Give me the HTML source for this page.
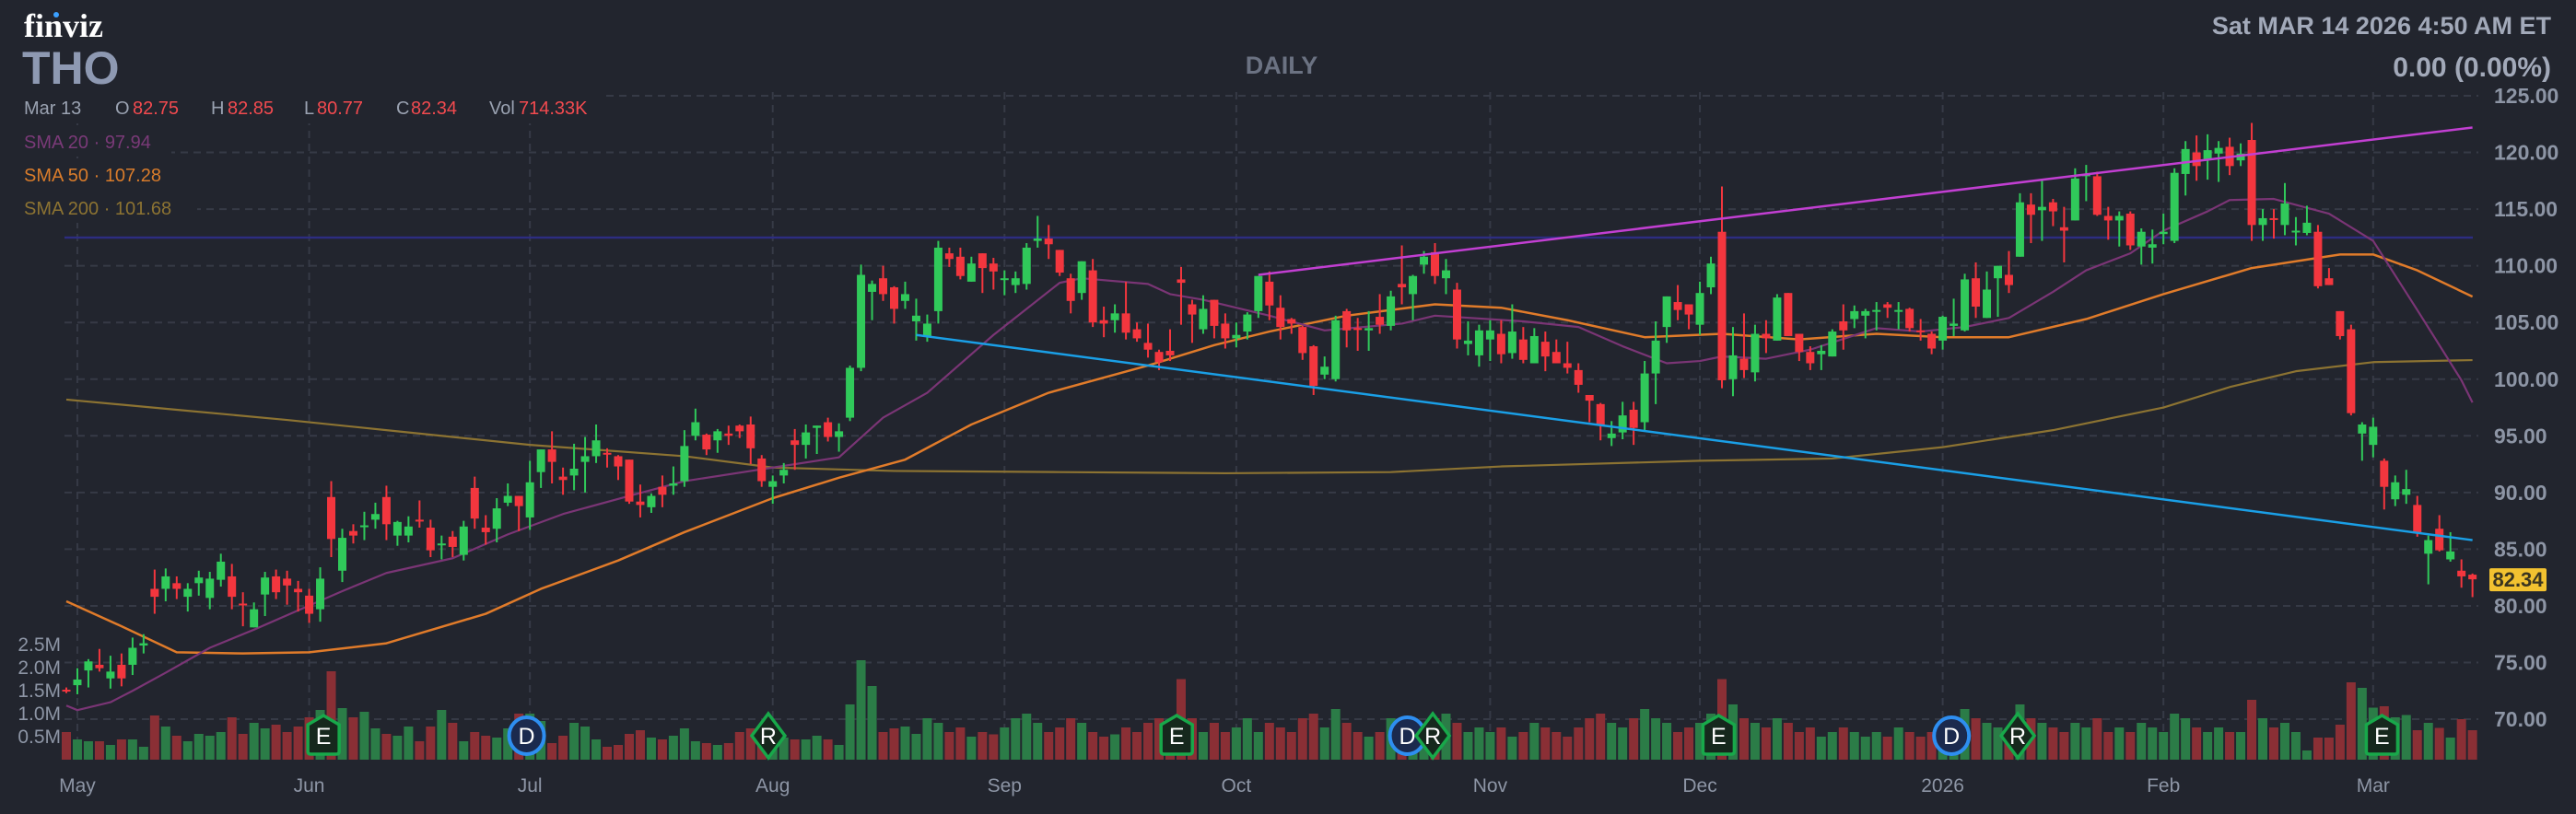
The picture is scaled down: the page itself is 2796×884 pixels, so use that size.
<!DOCTYPE html>
<html><head><meta charset="utf-8">
<style>
html,body{margin:0;padding:0;background:#22252e;}
#wrap{position:relative;width:2796px;height:884px;overflow:hidden;background:#22252e;font-family:"Liberation Sans",sans-serif;}
svg text{font-family:"Liberation Sans",sans-serif;}
</style></head>
<body>
<div id="wrap">
<svg id="chart" width="2796" height="884" xmlns="http://www.w3.org/2000/svg">
  <g id="grid"></g>
  <g id="vol"></g>
  <line x1="70" x2="2684" y1="258" y2="258" stroke="#2d2d80" stroke-width="2.5"/>
  <g id="smas"></g>
  <g id="candles"></g>
  <g id="trend"></g>
  <g id="badges"></g>
  <g id="axes"></g>

  <rect x="14" y="98" width="640" height="36" fill="#22252e"/>
  <rect x="14" y="136" width="172" height="34" fill="#22252e"/>
  <rect x="14" y="172" width="190" height="34" fill="#22252e"/>
  <rect x="14" y="208" width="200" height="34" fill="#22252e"/>
  <text x="26" y="40" font-family="Liberation Serif" font-weight="bold" font-size="36" fill="#ffffff" style="font-family:'Liberation Serif',serif">finviz</text>
  <circle cx="61" cy="16" r="3" fill="#3ba0ff"/>
  <text x="24" y="91" font-weight="bold" font-size="50" fill="#8e99b2">THO</text>
  <text x="1391" y="80" text-anchor="middle" font-weight="bold" font-size="27" fill="#6b7282">DAILY</text>
  <text x="2769" y="37" text-anchor="end" font-weight="bold" font-size="27" fill="#a2a9b9">Sat MAR 14 2026 4:50 AM ET</text>
  <text x="2769" y="83" text-anchor="end" font-weight="bold" font-size="30" fill="#a2a9b9">0.00 (0.00%)</text>

  <g font-size="20">
    <text x="26" y="124" fill="#9aa2b1">Mar 13</text>
    <text x="125" y="124" fill="#9aa2b1">O</text>
    <text x="144" y="124" fill="#f24a4f">82.75</text>
    <text x="229" y="124" fill="#9aa2b1">H</text>
    <text x="247" y="124" fill="#f24a4f">82.85</text>
    <text x="330" y="124" fill="#9aa2b1">L</text>
    <text x="344" y="124" fill="#f24a4f">80.77</text>
    <text x="430" y="124" fill="#9aa2b1">C</text>
    <text x="446" y="124" fill="#f24a4f">82.34</text>
    <text x="531" y="124" fill="#9aa2b1">Vol</text>
    <text x="563" y="124" fill="#f24a4f">714.33K</text>
  </g>
  <text x="26" y="161" font-size="20" fill="#7a3a78">SMA 20 · 97.94</text>
  <text x="26" y="197" font-size="20" fill="#d97c2b">SMA 50 · 107.28</text>
  <text x="26" y="233" font-size="20" fill="#8c7332">SMA 200 · 101.68</text>
</svg>
</div>
<script>
// ---- data ----
const candles = [
[72.6,72.8,72.3,72.5],[73,74.5,72.2,73.5],[74.3,75.3,72.8,75.1],[74.8,76.2,74.2,74.5],[73.6,75.6,72.7,74.2],
[74.8,75.8,72.9,73.6],[74.8,77.2,73.9,76.3],[76.5,77.5,75.8,76.7],[81.5,83.2,79.3,80.8],[81.5,83.3,80.4,82.6],
[82,82.6,80.6,81.5],[80.8,82,79.5,81.5],[82,83.1,80.9,82.5],[80.7,83,79.7,82.4],[82.3,84.6,81.7,83.9],
[82.6,83.7,79.7,80.8],[80.2,81.2,78.2,80.1],[78.1,80.3,78.1,79.7],[81,83,79.1,82.5],[82.6,83.2,80.6,81.2],
[82.4,83.1,80.1,81.8],[81.5,82.2,79.5,81.2],[80.9,81.5,78.5,79.3],[79.7,83.4,78.6,82.4],[89.6,91,84.3,85.9],
[83.1,86.8,82.1,86],[86.6,87.2,85.5,86.2],[87,88.3,85.8,87.1],[87.6,89.1,86.8,88.1],[89.6,90.6,85.8,87.2],
[86.2,87.5,85.3,87.4],[86.2,87.9,85.6,87],[87.6,89.3,86.9,87.5],[86.9,87.6,84.3,84.9],[85.4,86.2,84.1,85.5],
[86.1,86.6,84.3,85.2],[84.5,87.5,84,87],[90.4,91.4,86.8,87.7],[86.9,88,85.4,86.5],[86.8,89.5,85.6,88.6],
[89.1,90.8,88.8,89.7],[89.7,89.7,86.6,88.8],[87.8,92.8,86.7,90.9],[91.8,93.8,90.4,93.8],[93.8,95.4,90.8,92.7],
[91.4,92.2,89.8,91.1],[91.5,94.3,90.2,92.1],[92.7,94.9,90,93.2],[93.2,96,92.6,94.6],[93.5,93.9,92.2,93.4],
[93.2,93.3,91.1,92.3],[92.9,92.9,89,89.2],[89.2,90.7,87.8,88.9],[88.7,89.9,88.2,89.7],[90.5,91.5,88.7,89.8],
[90.6,92.3,89.8,90.8],[91,95.5,90.5,94.1],[95,97.4,94.6,96.2],[95.1,95.2,93.3,93.8],[94.6,95.6,93.5,95.4],
[95.2,95.9,94.2,95],[95.9,96,94.8,95.4],[96,96.7,92.5,93.9],[93,93.3,90.5,91],[90.5,91.5,89,91],
[91.5,92.6,90.8,92],[94.6,95.6,92,94.2],[94.2,96,93,95.3],[95.7,95.9,93.4,95.9],[96.2,96.6,94.5,94.9],
[94.9,96.1,93.6,95.4],[96.6,101.2,96.3,101],[101,110.1,100.7,109.2],[107.7,108.7,105.2,108.4],[108.9,110,106.9,107.5],
[108.1,108.2,104.9,106.2],[106.9,108.6,106.2,107.5],[105.1,107.1,103.4,105.6],[103.8,105.7,103.3,104.9],[106,112.2,104.9,111.6],
[111.1,111.6,109.9,110.6],[110.8,111.6,108.8,109.1],[108.6,110.8,108.6,110.2],[111.1,111.1,107.6,109.8],[110.2,110.7,107.9,109.5],
[108.9,109.6,107.4,108.9],[108.3,109.5,107.6,108.9],[108.4,112,107.9,111.6],[112.2,114.4,111.6,112.4],[112.4,113.6,110.6,111.9],
[111.4,111.4,109.1,109.4],[108.9,109.3,105.8,106.9],[107.6,110.4,107,110.4],[109.6,110.6,104.6,105],[105.2,106.4,103.7,104.9],
[105.2,106.6,104.1,105.8],[105.8,108.6,103.5,104.1],[104.4,105,103.3,103.6],[103.2,104.9,101.9,102.6],[102.4,102.6,100.8,101.5],
[102.5,104.4,101.6,102.1],[108.8,109.9,104.8,108.5],[106.6,107,103.2,105.7],[104.4,107.4,104,106.2],[107,107,103.6,104.7],
[104.9,105.8,102.7,103.6],[103.6,105,102.8,103.9],[104.2,105.9,103.5,105.7],[106,109.1,105.4,109.1],[108.6,109.5,105.2,106.5],
[106.3,107.4,103.5,104.6],[105.3,105.4,104,104.9],[104.6,104.7,101.7,102.3],[102.9,103,98.6,99.4],[100.4,102,100,101.1],
[100,105.6,99.8,105.2],[106,106.2,102.8,104.3],[104.5,105.4,102.5,104.4],[104.3,106,102.5,104.5],[105.5,107.5,104,104.8],
[104.7,107.8,104.3,107.3],[108.4,111.8,106.6,108.1],[107.5,109.2,105.2,109.1],[110.1,111.3,109.3,110.8],[111.2,112,108.4,109.1],
[108.9,110.6,107.5,109.6],[107.9,108.5,102.7,103.5],[103.1,105.1,102.1,103.4],[102.1,104.8,101.1,104.3],[103.5,105.2,101.6,104.3],
[104,105.2,101.4,102.2],[102.3,106.6,101.8,104.2],[103.5,104.6,101.4,101.7],[101.4,104.5,101.4,103.8],[103.3,104.2,100.7,102],
[102.4,103.5,101.4,101.4],[101.4,103.3,100.5,101],[100.8,101.4,98.8,99.5],[98.6,98.6,96.2,98.1],[97.8,97.9,94.6,95.9],
[94.8,96.3,94.1,95.2],[95.3,98,94.7,96.8],[97.3,98,94.2,95.7],[96.2,101.6,95.4,100.5],[100.5,105.1,97.8,103.4],
[104.6,107.3,103.2,107.3],[106.8,108.3,105.2,106.1],[106.6,106.6,104.4,105.7],[104.8,108.6,103.9,107.6],[108.1,110.8,107.5,110.2],
[113,117,99.2,99.9],[100,104.6,98.5,102.1],[101.8,105.8,100.1,100.8],[100.6,104.8,99.8,104],[104,105.2,102.3,103.6],
[103.4,107.5,103.4,107.2],[107.6,107.6,103.8,103.8],[104,104,101.6,102.4],[102.4,102.9,100.8,101.4],[102.2,103,100.8,102.5],
[102,104.4,102,104.2],[105.1,106.6,102.6,104.3],[105.3,106.5,104.5,106],[105.6,106.2,103.6,106],[106,106.8,104.3,106.1],
[106.6,106.8,105.4,106.3],[106,106.8,104.4,106.1],[106.2,106.3,104.2,104.5],[104.3,105.3,103.4,104.2],[104,104.2,102.2,102.7],
[103.4,105.6,102.6,105.5],[104.7,107.1,103.8,104.9],[104.3,109.3,104.2,108.8],[108.9,110.3,105.4,106.4],[105.4,109.5,105.4,107.9],
[108.9,110,105.5,110],[109.2,111.3,107.6,108.3],[110.8,116.4,110.8,115.6],[115.4,116.4,112,114.5],[114.9,117.5,112.2,115.2],
[115.6,115.9,113.5,114.8],[113.4,115.2,110.3,113.1],[114,118.6,114,117.7],[117.9,118.9,115.7,118.1],[117.9,118.3,114.4,114.5],
[114.4,115.2,112.3,114],[114,114.8,111.7,114.4],[114.6,114.8,111.4,111.8],[111.7,113.3,110.1,113],[111.6,113.2,110.2,111.9],
[112.8,114.6,111.9,113],[112.2,118.6,112,118.2],[118.1,121,116.2,120.3],[120,121.5,117.5,118.8],[119.4,121.6,117.6,120.2],
[119.9,121,117.4,120.4],[120.5,121.3,118,118.8],[119.3,120.8,118.8,119.9],[121.1,122.6,112.2,113.6],[113.6,115,112.2,114.2],
[114.2,115,112.4,114.1],[113.6,117.3,112.7,115.5],[113,114.3,111.8,113.1],[112.9,115.3,112.7,113.8],[113,113.6,108,108.2],
[108.9,109.8,108.3,108.3],[106,106,103.5,103.8],[104.4,104.8,96.8,97],[95.2,96.2,92.8,96],[94.2,96.6,93.1,95.8],
[92.8,93,88.5,90.5],[89.4,91.5,88.8,90.9],[89.8,92,89,90.3],[88.9,89.7,86.1,86.4],[84.6,86.2,81.9,85.8],
[86.8,88,84.8,84.9],[84.1,86.5,83.9,84.8],[83.1,84.1,81.6,82.6],[82.75,82.85,80.77,82.34]
];
const volumes = [
0.6,0.44,0.4,0.4,0.32,0.44,0.44,0.28,0.96,0.72,0.52,0.4,0.56,0.52,0.6,0.92,0.56,0.8,0.68,0.76,
0.6,0.72,0.92,1.08,1.92,1.12,0.92,1.04,0.68,0.56,0.52,0.72,0.4,0.72,1.08,0.8,0.4,0.6,0.52,0.48,
0.68,1.0,1.0,0.84,0.36,0.52,0.8,0.72,0.44,0.28,0.32,0.56,0.64,0.48,0.44,0.52,0.68,0.4,0.36,0.32,
0.36,0.6,0.68,0.5,0.68,0.48,0.44,0.44,0.52,0.44,0.32,1.2,2.16,1.6,0.6,0.68,0.72,0.56,0.9,0.8,
0.6,0.7,0.5,0.6,0.55,0.7,0.9,1.0,0.8,0.6,0.7,0.9,0.8,0.6,0.5,0.55,0.7,0.6,0.8,0.9,
0.7,1.75,0.9,0.6,0.8,0.6,0.7,0.9,0.6,0.8,0.7,0.6,0.9,1.0,0.7,1.1,0.8,0.6,0.5,0.6,
0.9,0.8,0.6,0.7,0.9,1.0,0.8,0.6,0.7,0.6,0.7,0.5,0.6,0.8,0.7,0.6,0.5,0.7,0.9,1.0,
0.8,0.7,0.9,1.1,0.9,0.8,0.6,0.7,0.8,1.0,1.75,1.2,0.9,0.8,0.7,0.9,0.8,0.6,0.7,0.5,
0.6,0.7,0.6,0.5,0.6,0.5,0.7,0.6,0.5,0.6,0.7,0.9,1.1,0.9,0.8,0.7,0.6,1.2,0.9,0.8,
0.7,0.6,0.8,0.7,0.9,0.6,0.7,0.6,0.8,0.7,0.6,1.0,0.9,0.7,0.6,0.7,0.6,0.6,1.3,0.9,
0.7,0.8,0.6,0.2,0.48,0.48,0.76,1.68,1.56,1.13,1.16,0.92,0.97,0.64,0.8,0.69,0.48,0.88,0.64
];
const sma20Idx = [0,1,4,6,9,13,17,21,25,29,35,40,45,51,56,70,74,78,84,90,92,98,100,103,109,114,121,124,132,137,141,145,148,150,154,158,164,168,172,176,180,183,187,190,194,196,200,205,209,213,217,218];
const sma20Val = [71.2,70.8,71.5,72.5,74.1,76.3,77.9,79.6,81.3,82.9,84.2,86.3,88.1,89.7,91,93.1,96.6,98.8,103.9,108.5,108.9,108.4,107.5,107,105.6,104.3,104.9,105.6,105.1,104.6,102.9,101.4,101.6,102,101.8,102.6,104.5,104.2,104.6,105.4,107.7,109.6,111.1,113.1,114.8,115.8,115.9,114.6,112.2,106.1,99.9,97.94];
const sma50Idx = [0,5,10,16,22,29,38,43,50,56,64,70,76,82,89,98,104,109,116,124,130,136,143,150,157,164,170,176,183,190,198,206,209,213,218];
const sma50Val = [80.4,78.2,75.9,75.8,75.9,76.7,79.3,81.5,84,86.5,89.5,91.3,92.9,96,98.8,101.2,103,104.2,105.6,106.6,106.3,105.2,103.7,104,103.5,104,103.7,103.7,105.3,107.5,109.8,111,111,109.6,107.28];
const sma200Idx = [0,10,20,30,42,56,64,75,90,105,120,130,148,160,170,180,190,196,202,209,218];
const sma200Val = [98.2,97.3,96.4,95.4,94.2,93.2,92.2,91.9,91.8,91.7,91.8,92.3,92.8,93.0,94.0,95.5,97.5,99.3,100.7,101.5,101.68];
const trendUpper = [[108,109.2],[218,122.2]];
const trendLower = [[77,103.9],[218,85.8]];
const monthLabels = ["May","Jun","Jul","Aug","Sep","Oct","Nov","Dec","2026","Feb","Mar"];
const monthIdx = [1,22,42,64,85,106,129,148,170,190,209];
const priceTicks = [125,120,115,110,105,100,95,90,85,80,75,70];
const volTicks = [2.5,2.0,1.5,1.0,0.5];
const volTickLabels = ["2.5M","2.0M","1.5M","1.0M","0.5M"];
const eventTypes = ["E","D","R","E","D","R","E","D","R","E"];
const eventIdx = [23.3,41.7,63.6,100.6,121.5,123.8,149.7,170.8,176.8,209.8];
const lastPrice = 82.34;

// ---- scales ----
const X = i => 72 + i*11.98;
const Y = p => 104 + (125-p)*12.31;
const V = v => 825 - v*50;
const NS = "http://www.w3.org/2000/svg";
function mk(tag, attrs, parent){const e=document.createElementNS(NS,tag);for(const k in attrs)e.setAttribute(k,attrs[k]);parent.appendChild(e);return e;}
const G = id => document.getElementById(id);

// grid
const grid = G('grid');
priceTicks.forEach(p=>{
  const l = mk('line',{x1:70,x2:2690,y1:Y(p),y2:Y(p),stroke:'#363a46','stroke-width':2,'stroke-dasharray':'8 6'},grid);
  
  
});
monthIdx.forEach(i=>{
  const l = mk('line',{x1:X(i),x2:X(i),y1:100,y2:828,stroke:'#363a46','stroke-width':2,'stroke-dasharray':'8 6'},grid);
  
  
});

// volume
const vol = G('vol');
volumes.forEach((v,i)=>{
  const c = candles[i]; const up = c[3]>=c[0];
  const r = mk('rect',{x:X(i)-5,y:V(v),width:10,height:825-V(v),fill:up?'#2b7c47':'#8a2f35'},vol);
  
  
});

// SMAs
function poly(idx,val,color,w,name){
  const pts = idx.map((i,k)=>X(i)+','+Y(val[k])).join(' ');
  const p = mk('polyline',{points:pts,fill:'none',stroke:color,'stroke-width':w,'stroke-linejoin':'round'},G('smas'));
  
  
}
poly(sma200Idx,sma200Val,'#8c7332',2.2,'sma200-line');
poly(sma50Idx,sma50Val,'#e07b2a',2.5,'sma50-line');
poly(sma20Idx,sma20Val,'#7a3575',2.2,'sma20-line');

// candles
const cg = G('candles');
candles.forEach((c,i)=>{
  const [o,h,l,cl] = c; const up = cl>=o; const col = up?'#30c95a':'#f3363e';
  const x = X(i);
  const w = mk('line',{x1:x,x2:x,y1:Y(h),y2:Y(l),stroke:col,'stroke-width':2},cg);
  
  
  const top = Y(Math.max(o,cl)), bot = Y(Math.min(o,cl));
  const b = mk('rect',{x:x-4.5,y:top,width:9,height:Math.max(2,bot-top),fill:col},cg);
  
  
});

// trendlines
const tg = G('trend');
const t1 = mk('line',{x1:X(trendUpper[0][0]),y1:Y(trendUpper[0][1]),x2:X(trendUpper[1][0]),y2:Y(trendUpper[1][1]),stroke:'#c23fd2','stroke-width':2.5},tg);


const t2 = mk('line',{x1:X(trendLower[0][0]),y1:Y(trendLower[0][1]),x2:X(trendLower[1][0]),y2:Y(trendLower[1][1]),stroke:'#1a9fe6','stroke-width':2.5},tg);



// badges
const bg = G('badges');
eventTypes.forEach((t,k)=>{
  const x = X(eventIdx[k]), y = 799;
  const g = mk('g',{},bg);
  
  
  if(t==='E'){
    mk('path',{d:`M${x-17} ${y-12} L${x} ${y-22} L${x+17} ${y-12} L${x+17} ${y+17} Q${x+17} ${y+20} ${x+14} ${y+20} L${x-14} ${y+20} Q${x-17} ${y+20} ${x-17} ${y+17} Z`,fill:'#16281d',stroke:'#18a84a','stroke-width':3.5},g);
  } else if(t==='D'){
    mk('ellipse',{cx:x,cy:y,rx:19,ry:20,fill:'#1b2a4e',stroke:'#2e8ef0','stroke-width':4},g);
  } else {
    mk('path',{d:`M${x} ${y-24} L${x+18} ${y} L${x} ${y+24} L${x-18} ${y} Z`,fill:'#16281d',stroke:'#18a84a','stroke-width':3.5},g);
  }
  const tx = mk('text',{x:x,y:y+9,'text-anchor':'middle','font-size':25,fill:'#ffffff'},g);
  tx.textContent = t;
});

// axes
const ax = G('axes');
priceTicks.forEach(p=>{
  const t = mk('text',{x:2707,y:Y(p)+8,'font-size':23,'font-weight':'bold',fill:'#8d95a5'},ax);
  
  
  t.textContent = p.toFixed(2);
});
volTicks.forEach((v,k)=>{
  const t = mk('text',{x:66,y:V(v)+7,'text-anchor':'end','font-size':21,fill:'#8d95a5'},ax);
  
  
  t.textContent = volTickLabels[k];
});
monthLabels.forEach((m,k)=>{
  const t = mk('text',{x:X(monthIdx[k]),y:860,'text-anchor':'middle','font-size':21,fill:'#8d95a5'},ax);
  
  
  t.textContent = m;
});
const pb = mk('rect',{x:2702,y:Y(lastPrice)-12,width:62,height:25,fill:'#f2c230',rx:2},ax);


const pt = mk('text',{x:2733,y:Y(lastPrice)+8,'text-anchor':'middle','font-size':22,'font-weight':'bold',fill:'#3a3520'},ax);


pt.textContent = lastPrice.toFixed(2);
</script>
</body></html>
